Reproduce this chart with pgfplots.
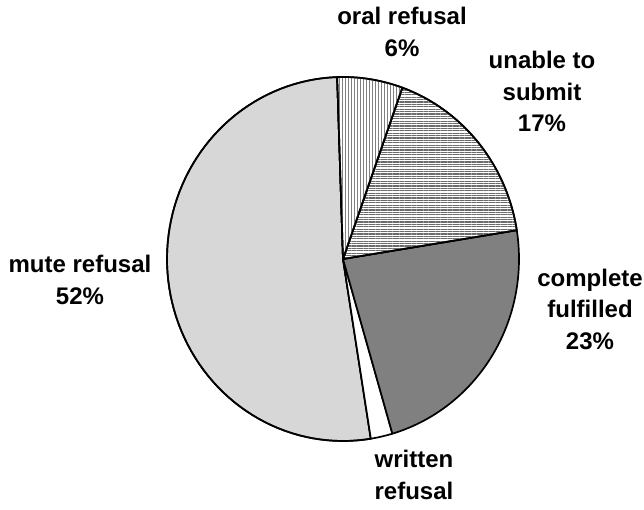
\documentclass[border=0pt]{standalone}
\usepackage{pgfplots}
\pgfplotsset{compat=1.18}
\usepackage{pgfplotstable}
\usetikzlibrary{patterns.meta}
\usepackage{fontspec}
\setmainfont{Liberation Sans}
\pgfplotstableread{
label value
oral 6
unable 17
complete 23
written 2
mute 52
}\piedata
\begin{document}
\begin{tikzpicture}
\begin{axis}[
  x=1pt, y=1pt, xmin=0, xmax=644, ymin=0, ymax=510,
  hide axis, clip=false,
]
\path (axis cs:0,0) rectangle (axis cs:644,510);
\def\cx{343}\def\cy{251}\def\rx{176}\def\ry{182}\def\off{91.9}
% cumulative percentages from the table
\pgfplotstablegetelem{0}{value}\of\piedata \pgfmathsetmacro\cA{\pgfplotsretval}
\pgfplotstablegetelem{1}{value}\of\piedata \pgfmathsetmacro\cB{\cA+\pgfplotsretval}
\pgfplotstablegetelem{2}{value}\of\piedata \pgfmathsetmacro\cC{\cB+\pgfplotsretval}
\pgfplotstablegetelem{3}{value}\of\piedata \pgfmathsetmacro\cD{\cC+\pgfplotsretval}
\pgfplotstablegetelem{4}{value}\of\piedata \pgfmathsetmacro\cE{\cD+\pgfplotsretval}
\pgfmathsetmacro\aO{\off}
\pgfmathsetmacro\aA{\off-3.6*\cA}
\pgfmathsetmacro\aB{\off-3.6*\cB}
\pgfmathsetmacro\aC{\off-3.6*\cC}
\pgfmathsetmacro\aD{\off-3.6*\cD}
\pgfmathsetmacro\aE{\off-3.6*\cE}
\pgfplotsset{wedge/.style={draw=black, line width=1.7pt, line join=round, variable=\t, samples=80}}
% mute refusal
\addplot[wedge, fill=black!17, postaction={pattern={Dots[distance=2pt,radius=0.45pt]}, pattern color=white}, domain=\aE:\aD]
  ({\cx+\rx*cos(\t)},{\cy+\ry*sin(\t)}) -- (axis cs:\cx,\cy) -- cycle;
% written refusal
\addplot[wedge, fill=white, domain=\aD:\aC]
  ({\cx+\rx*cos(\t)},{\cy+\ry*sin(\t)}) -- (axis cs:\cx,\cy) -- cycle;
% complete fulfilled
\addplot[wedge, fill=black!50, domain=\aC:\aB]
  ({\cx+\rx*cos(\t)},{\cy+\ry*sin(\t)}) -- (axis cs:\cx,\cy) -- cycle;
% unable to submit
\addplot[wedge, fill=white, postaction={pattern={Lines[angle=0,distance=2.4pt,line width=1.3pt]}, pattern color=black!58}, domain=\aB:\aA]
  ({\cx+\rx*cos(\t)},{\cy+\ry*sin(\t)}) -- (axis cs:\cx,\cy) -- cycle;
% oral refusal
\addplot[wedge, fill=white, postaction={pattern={Lines[angle=90,distance=3pt,line width=0.8pt]}, pattern color=black!50}, domain=\aA:\aO]
  ({\cx+\rx*cos(\t)},{\cy+\ry*sin(\t)}) -- (axis cs:\cx,\cy) -- cycle;
\tikzset{lab/.style={anchor=base, inner sep=0pt, font=\bfseries\fontsize{24}{28}\selectfont}}
\node[lab] at (axis cs:402,485) {oral refusal};
\node[lab] at (axis cs:402,453) {6\%};
\node[lab] at (axis cs:542,441) {unable to};
\node[lab] at (axis cs:542,409) {submit};
\node[lab] at (axis cs:542,378) {17\%};
\node[lab] at (axis cs:590,223) {complete};
\node[lab] at (axis cs:590,192) {fulfilled};
\node[lab] at (axis cs:590,160) {23\%};
\node[lab] at (axis cs:80,237) {mute refusal};
\node[lab] at (axis cs:80,205) {52\%};
\node[lab] at (axis cs:414,42) {written};
\node[lab] at (axis cs:414,10) {refusal};
\end{axis}
\end{tikzpicture}
\end{document}
